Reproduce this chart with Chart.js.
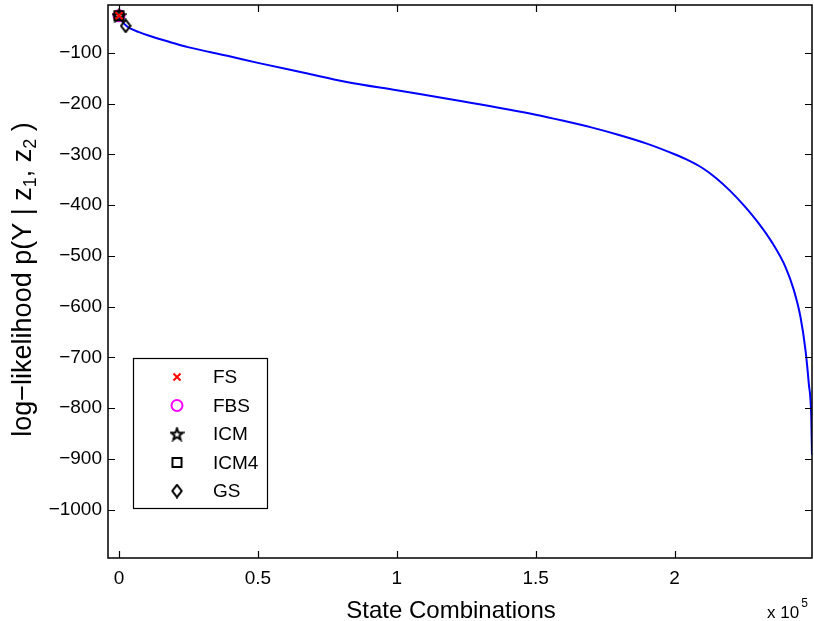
<!DOCTYPE html>
<html><head><meta charset="utf-8">
<script src="https://cdn.jsdelivr.net/npm/chart.js@4.4.1/dist/chart.umd.min.js"></script>
<style>html,body{margin:0;padding:0;background:#fff;}#wrap{width:814px;height:621px;}</style>
</head><body><div id="wrap"><canvas id="c" width="814" height="621"></canvas></div>
<script>
// ---- data ----
const curveX = [0, 1000, 2400, 4000, 7000, 10600, 17700, 24800, 39000, 50000, 67000, 81500, 100000, 124000, 150000, 160000, 170000, 180000, 190000, 200000, 205000, 210000, 215000, 220000, 225000, 230000, 235000, 240000, 242900, 245300, 247100, 248300, 249200, 249460];
const curveY = [-28, -37, -46, -52, -59, -66, -78, -89, -106, -120, -140, -157, -174, -196, -222, -234, -247, -262, -279, -300, -312, -327, -347, -372, -401, -434, -473, -523, -567, -620, -685, -751, -817, -892];
const markerNames = ['FS', 'FBS', 'ICM', 'ICM4', 'GS'];
const markerX = [0, 0, 0, 0, 2400];
const markerY = [-27, -27, -27, -27, -47];
const xTickValues = [0, 50000, 100000, 150000, 200000];
const xTickLabels = ['0', '0.5', '1', '1.5', '2'];
const yTickValues = [-1000, -900, -800, -700, -600, -500, -400, -300, -200, -100];
const xTitle = 'State Combinations';
const yTitleParts = [['log\u2212likelihood p(Y | z', false], ['1', true], [', z', false], ['2', true], [' )', false]];
const xExponentBase = 'x 10';
const xExponent = '5';

const FONT = '"Liberation Sans", Arial, Helvetica, sans-serif';

function makeStar(size, lw) {
  const c = document.createElement('canvas'); c.width = c.height = size;
  const g = c.getContext('2d'); const cx = size / 2, cy = size / 2 + 0.6;
  const R = size / 2 - lw / 2 - 0.3, r = R * 0.42;
  g.beginPath();
  for (let i = 0; i < 10; i++) {
    const a = -Math.PI / 2 + i * Math.PI / 5; const rr = i % 2 ? r : R;
    g.lineTo(cx + rr * Math.cos(a), cy + rr * Math.sin(a));
  }
  g.closePath(); g.lineWidth = lw; g.lineJoin = 'miter'; g.strokeStyle = '#000'; g.stroke();
  return c;
}
function makeDiamond(w, h, lw) {
  const c = document.createElement('canvas'); c.width = w; c.height = h;
  const g = c.getContext('2d'); const m = lw / 2 + 0.3;
  g.beginPath(); g.moveTo(w / 2, m); g.lineTo(w - m, h / 2); g.lineTo(w / 2, h - m); g.lineTo(m, h / 2); g.closePath();
  g.lineWidth = lw; g.strokeStyle = '#000'; g.stroke();
  return c;
}
const starImg = makeStar(15, 2);
const diamondImg = makeDiamond(12, 15, 2);

const markerStyles = [
  { pointStyle: 'crossRot', pointRadius: 5, pointBorderColor: '#ff0000', pointBackgroundColor: 'rgba(0,0,0,0)', pointBorderWidth: 2 },
  { pointStyle: 'circle', pointRadius: 5.5, pointBorderColor: '#ff00ff', pointBackgroundColor: 'rgba(0,0,0,0)', pointBorderWidth: 2 },
  { pointStyle: starImg, pointRadius: 7, pointBorderColor: '#000', pointBackgroundColor: 'rgba(0,0,0,0)', pointBorderWidth: 2 },
  { pointStyle: 'rect', pointRadius: 6.4, pointBorderColor: '#000', pointBackgroundColor: 'rgba(0,0,0,0)', pointBorderWidth: 2 },
  { pointStyle: diamondImg, pointRadius: 7, pointBorderColor: '#000', pointBackgroundColor: 'rgba(0,0,0,0)', pointBorderWidth: 2 }
];
const drawOrder = [1, 4, 3, 2, 5];

const datasets = [];
markerNames.forEach((n, i) => {
  datasets.push(Object.assign({
    label: n, data: [{ x: markerX[i], y: markerY[i] }], showLine: false, order: drawOrder[i]
  }, markerStyles[i]));
});
datasets.push({
  label: 'curve', data: curveX.map((x, i) => ({ x, y: curveY[i] })), showLine: true,
  borderColor: '#0000ff', borderWidth: 2, pointRadius: 0, cubicInterpolationMode: 'monotone', order: 10, fill: false
});

function fmtY(v) { return v < 0 ? '\u2212' + Math.abs(v) : String(v); }
function zeroPad(s) { s.paddingLeft = 0; s.paddingRight = 0; s.paddingTop = 0; s.paddingBottom = 0; }

const framePlugin = {
  id: 'frame',
  afterDraw(chart) {
    const ctx = chart.ctx, a = chart.chartArea;
    const xs = chart.scales.x, ys = chart.scales.y;
    ctx.save();
    ctx.strokeStyle = '#000'; ctx.lineWidth = 1.5;
    ctx.strokeRect(a.left, a.top, a.right - a.left, a.bottom - a.top);
    const tl = 7;
    ctx.lineWidth = 1.2;
    ctx.beginPath();
    xTickValues.forEach(v => {
      const px = Math.round(xs.getPixelForValue(v)) + 0.5;
      ctx.moveTo(px, a.bottom); ctx.lineTo(px, a.bottom - tl);
      ctx.moveTo(px, a.top); ctx.lineTo(px, a.top + tl);
    });
    yTickValues.forEach(v => {
      const py = Math.round(ys.getPixelForValue(v)) + 0.5;
      ctx.moveTo(a.left, py); ctx.lineTo(a.left + tl, py);
      ctx.moveTo(a.right, py); ctx.lineTo(a.right - tl, py);
    });
    ctx.stroke();

    // legend
    const lx = 133, ly = 358, lw = 134, lh = 150;
    ctx.fillStyle = '#fff'; ctx.fillRect(lx, ly, lw, lh);
    ctx.lineWidth = 1.2; ctx.strokeStyle = '#000'; ctx.strokeRect(lx + 0.5, ly + 0.5, lw, lh);
    ctx.font = '19px ' + FONT; ctx.textBaseline = 'middle'; ctx.textAlign = 'left';
    markerNames.forEach((n, i) => {
      const y = 377 + i * 28.5;
      const ds = chart.data.datasets[i];
      ctx.save();
      ctx.strokeStyle = ds.pointBorderColor; ctx.fillStyle = ds.pointBackgroundColor; ctx.lineWidth = ds.pointBorderWidth;
      Chart.helpers.drawPoint(ctx, { pointStyle: ds.pointStyle, radius: ds.pointRadius, rotation: 0, borderWidth: ds.pointBorderWidth }, 177, y);
      ctx.restore();
      ctx.fillStyle = '#000';
      ctx.fillText(n, 213, y + 1);
    });

    // x title
    ctx.fillStyle = '#000';
    ctx.font = '24px ' + FONT; ctx.textAlign = 'center'; ctx.textBaseline = 'alphabetic';
    ctx.fillText(xTitle, 451, 618);
    // exponent
    ctx.textAlign = 'left'; ctx.font = '17px ' + FONT;
    ctx.fillText(xExponentBase, 767, 618);
    const w = ctx.measureText(xExponentBase).width;
    ctx.font = '12px ' + FONT; ctx.fillText(xExponent, 767 + w + 2, 607);

    // y title
    ctx.save();
    ctx.translate(22, (a.top + a.bottom) / 2 - 2);
    ctx.rotate(-Math.PI / 2);
    const big = '27px ' + FONT, small = '18px ' + FONT;
    let total = 0;
    yTitleParts.forEach(p => { ctx.font = p[1] ? small : big; total += ctx.measureText(p[0]).width; });
    let x = -total / 2;
    ctx.textAlign = 'left'; ctx.textBaseline = 'alphabetic';
    yTitleParts.forEach(p => {
      ctx.font = p[1] ? small : big;
      ctx.fillText(p[0], x, p[1] ? 14 : 9);
      x += ctx.measureText(p[0]).width;
    });
    ctx.restore();
    ctx.restore();
  }
};

new Chart(document.getElementById('c'), {
  type: 'scatter',
  data: { datasets },
  options: {
    responsive: false, animation: false, devicePixelRatio: 1,
    layout: { autoPadding: false, padding: { left: 0, right: 2, top: 5, bottom: 0 } },
    plugins: { legend: { display: false }, tooltip: { enabled: false } },
    scales: {
      x: {
        type: 'linear', min: -3960, max: 249460,
        grid: { display: false, drawTicks: false }, border: { display: false },
        afterFit(s) { s.height = 63; zeroPad(s); },
        afterBuildTicks(s) { s.ticks = xTickValues.map(v => ({ value: v })); },
        ticks: { color: '#000', font: { size: 19, family: FONT }, padding: 9, maxRotation: 0,
          callback: (v) => xTickLabels[xTickValues.indexOf(v)] }
      },
      y: {
        type: 'linear', min: -1095, max: -6,
        grid: { display: false, drawTicks: false }, border: { display: false },
        afterFit(s) { s.width = 108; zeroPad(s); },
        afterBuildTicks(s) { s.ticks = yTickValues.map(v => ({ value: v })); },
        ticks: { color: '#000', font: { size: 19, family: FONT }, padding: 6, callback: (v) => fmtY(v) }
      }
    }
  },
  plugins: [framePlugin]
});
</script></body></html>
